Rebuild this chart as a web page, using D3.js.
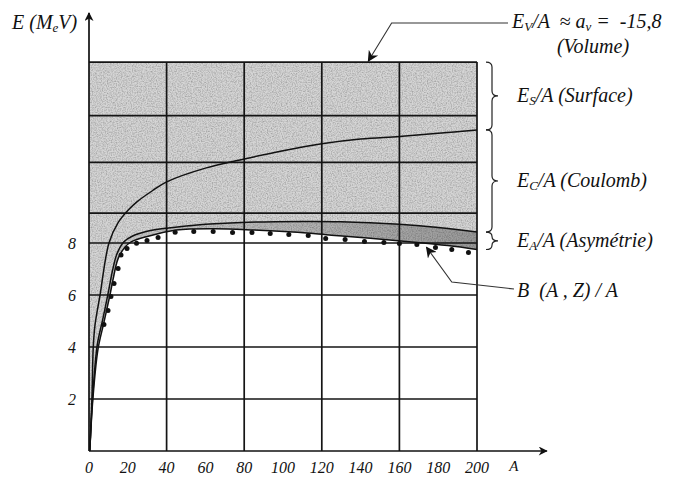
<!DOCTYPE html>
<html>
<head>
<meta charset="utf-8">
<script src="https://cdn.jsdelivr.net/npm/d3@7"></script>
<style>
  body { margin: 0; background: #fff; }
  svg { display: block; }
  text { font-family: 'Liberation Serif', 'DejaVu Serif', serif; font-style: italic; fill: #111; white-space: pre; }
</style>
</head>
<body>
<div id="chart"></div>
<script>
// Mass number A on x, energy per nucleon (MeV) on y
const xTicks = [0, 20, 40, 60, 80, 100, 120, 140, 160, 180, 200];
const xGrid = [0, 40, 80, 120, 160, 200];
const yTicks = [2, 4, 6, 8];
const yGridUpper = [9.15, 11.1, 12.9];
const volumeLevel = 14.96;

// E_V/A - E_S/A
const surfaceCurve = [
  [0.4, 0], [1.5, 2], [2.2, 4], [3.1, 4.85], [5.7, 6.0], [10.3, 8.0], [15, 8.78],
  [20, 9.25], [25, 9.6], [32.5, 10.0], [40, 10.35], [60, 10.88], [80, 11.23],
  [100, 11.55], [120, 11.82], [140, 12.0], [160, 12.1], [180, 12.22], [200, 12.35]
];
// ... - E_C/A
const coulombCurve = [
  [0.4, 0], [2, 2.2], [4.3, 4.1], [7.2, 5.1], [10.2, 6.2], [12, 6.9], [14.5, 7.6],
  [18, 8.05], [22, 8.25], [30, 8.45], [41, 8.58], [60, 8.72], [82, 8.8], [110, 8.83],
  [130, 8.82], [160, 8.72], [180, 8.6], [200, 8.42]
];
// ... - E_A/A (semi-empirical result)
const finalCurve = [
  [0.4, 0], [2, 2], [4.6, 3.9], [7.7, 4.95], [10.8, 6.0], [12.4, 6.6], [15, 7.4],
  [18.6, 7.85], [22, 8.05], [30, 8.25], [45, 8.5], [65, 8.55], [85, 8.5], [105, 8.42],
  [125, 8.3], [145, 8.18], [165, 8.05], [185, 7.9], [200, 7.75]
];
// measured B(A,Z)/A
const measured = [
  [7.7, 4.92], [9.8, 5.46], [11.3, 6.0], [12.9, 6.5], [15, 7.08], [16.5, 7.6],
  [19.6, 7.85], [24.5, 8.05], [29.9, 8.15], [35.6, 8.27], [44.4, 8.47], [54, 8.5],
  [64, 8.5], [74, 8.46], [84, 8.46], [93.4, 8.42], [103, 8.38], [113, 8.35],
  [122, 8.23], [132, 8.19], [142, 8.12], [152, 8.08], [160, 8.04], [169, 8.0],
  [178.6, 7.88], [187, 7.81], [195.6, 7.69]
];

const width = 673, height = 477;
const x = d3.scaleLinear().domain([0, 200]).range([89, 477]);
const y = d3.scaleLinear().domain([0, 8]).range([451, 243]);

const svg = d3.select('#chart').append('svg')
  .attr('width', width)
  .attr('height', height);

const defs = svg.append('defs');

// paper grain for the shaded region
const grain = defs.append('filter').attr('id', 'grain')
  .attr('x', 0).attr('y', 0).attr('width', '100%').attr('height', '100%');
grain.append('feTurbulence')
  .attr('type', 'fractalNoise').attr('baseFrequency', 0.8)
  .attr('numOctaves', 2).attr('seed', 7).attr('result', 'noise');
grain.append('feColorMatrix').attr('in', 'noise').attr('type', 'matrix')
  .attr('values', '0 0 0 0 0  0 0 0 0 0  0 0 0 0 0  0 0 0 0.9 -0.32')
  .attr('result', 'dots');
grain.append('feComposite').attr('in', 'dots').attr('in2', 'SourceGraphic')
  .attr('operator', 'in').attr('result', 'clipped');
const merge = grain.append('feMerge');
merge.append('feMergeNode').attr('in', 'SourceGraphic');
merge.append('feMergeNode').attr('in', 'clipped');

const band = defs.append('linearGradient').attr('id', 'band')
  .attr('gradientUnits', 'userSpaceOnUse')
  .attr('x1', x(20)).attr('x2', x(200)).attr('y1', 0).attr('y2', 0);
band.append('stop').attr('offset', 0).attr('stop-color', '#cbcbcb');
band.append('stop').attr('offset', 1).attr('stop-color', '#9a9a9a');

function arrowMarker (id, w, h) {
  defs.append('marker')
    .attr('id', id)
    .attr('viewBox', '0 0 10 10')
    .attr('refX', 9).attr('refY', 5)
    .attr('markerUnits', 'userSpaceOnUse')
    .attr('markerWidth', w).attr('markerHeight', h)
    .attr('orient', 'auto')
    .append('path')
    .attr('d', 'M0,0 L10,5 L0,10 L3,5 Z')
    .attr('fill', '#111');
}
arrowMarker('axisArrow', 12, 9);
arrowMarker('leadArrow', 15, 11);

const line = d3.line().x(d => x(d[0])).y(d => y(d[1])).curve(d3.curveCatmullRom.alpha(0.5));

// shaded region between the volume level and the final curve
const shade = d3.area()
  .x(d => x(d[0]))
  .y0(y(volumeLevel))
  .y1(d => y(d[1]))
  .curve(d3.curveCatmullRom.alpha(0.5));
svg.append('path')
  .datum([[0, 0]].concat(finalCurve))
  .attr('d', shade)
  .attr('fill', '#d5d5d5')
  .attr('filter', 'url(#grain)');

// darker asymmetry band
const bandPath = line(coulombCurve) + 'L' + line(finalCurve.slice().reverse()).slice(1) + 'Z';
svg.append('path')
  .attr('d', bandPath)
  .attr('fill', 'url(#band)')
  .attr('filter', 'url(#grain)');

// grid
const grid = svg.append('g').attr('stroke', '#151515').attr('stroke-width', 1.7);
grid.selectAll('.vg')
  .data(xGrid.slice(1))
  .enter().append('line')
  .attr('x1', d => x(d)).attr('x2', d => x(d))
  .attr('y1', y(0)).attr('y2', y(volumeLevel));
grid.selectAll('.hg')
  .data(yTicks.concat(yGridUpper, [volumeLevel]))
  .enter().append('line')
  .attr('x1', x(0)).attr('x2', x(200))
  .attr('y1', d => y(d)).attr('y2', d => y(d));

// curves
[surfaceCurve, coulombCurve, finalCurve].forEach(c => {
  svg.append('path')
    .datum(c)
    .attr('d', line)
    .attr('fill', 'none')
    .attr('stroke', '#111')
    .attr('stroke-width', 1.5);
});

svg.append('g').selectAll('circle')
  .data(measured)
  .enter().append('circle')
  .attr('cx', d => x(d[0]))
  .attr('cy', d => y(d[1]) + 1.5)
  .attr('r', 2.5)
  .attr('fill', '#111');

// axes
svg.append('line')
  .attr('x1', x(0)).attr('y1', y(0))
  .attr('x2', x(0)).attr('y2', 13)
  .attr('stroke', '#111').attr('stroke-width', 1.7)
  .attr('marker-end', 'url(#axisArrow)');
svg.append('line')
  .attr('x1', x(0)).attr('y1', y(0))
  .attr('x2', x(236)).attr('y2', y(0))
  .attr('stroke', '#111').attr('stroke-width', 1.7)
  .attr('marker-end', 'url(#axisArrow)');

svg.append('g').selectAll('text')
  .data(xTicks)
  .enter().append('text')
  .attr('x', d => x(d))
  .attr('y', 473)
  .attr('text-anchor', 'middle')
  .attr('font-size', 16)
  .text(d => d);
svg.append('text')
  .attr('x', x(219)).attr('y', 471)
  .attr('font-size', 15).attr('font-style', 'normal')
  .attr('text-anchor', 'middle')
  .text('A');

svg.append('g').selectAll('text')
  .data(yTicks)
  .enter().append('text')
  .attr('x', 76)
  .attr('y', d => y(d) + 6)
  .attr('text-anchor', 'end')
  .attr('font-size', 16)
  .text(d => d);

const yTitle = svg.append('text').attr('x', 12).attr('y', 29).attr('font-size', 20);
yTitle.append('tspan').text('E (M');
yTitle.append('tspan').attr('font-size', 13).attr('dy', 3).text('e');
yTitle.append('tspan').attr('dy', -3).text('V)');

// braces on the right
function brace (top, bottom) {
  const x0 = x(200) + 9, w = 6;
  const y1 = y(top), y2 = y(bottom), ym = (y1 + y2) / 2;
  const r = Math.min(5, (y2 - y1) / 4);
  return `M${x0},${y1} Q${x0 + w},${y1} ${x0 + w},${y1 + r} L${x0 + w},${ym - r} ` +
    `Q${x0 + w},${ym} ${x0 + 2 * w},${ym} Q${x0 + w},${ym} ${x0 + w},${ym + r} ` +
    `L${x0 + w},${y2 - r} Q${x0 + w},${y2} ${x0},${y2}`;
}
const endS = surfaceCurve[surfaceCurve.length - 1][1];
const endC = coulombCurve[coulombCurve.length - 1][1];
const endF = finalCurve[finalCurve.length - 1][1];
const braces = [
  { top: volumeLevel, bottom: endS, sub: 'S', label: '/A (Surface)' },
  { top: endS, bottom: endC, sub: 'C', label: '/A (Coulomb)' },
  { top: endC, bottom: endF, sub: 'A', label: '/A (Asymétrie)' }
];
braces.forEach(b => {
  svg.append('path')
    .attr('d', brace(b.top, b.bottom))
    .attr('fill', 'none').attr('stroke', '#222').attr('stroke-width', 1.2);
  const t = svg.append('text')
    .attr('x', 517)
    .attr('y', (y(b.top) + y(b.bottom)) / 2 + 6)
    .attr('font-size', 20);
  t.append('tspan').text('E');
  t.append('tspan').attr('font-size', 13).attr('dy', 3).text(b.sub);
  t.append('tspan').attr('dy', -3).text(b.label);
});

// volume annotation
const vol = svg.append('text').attr('x', 512).attr('y', 28).attr('font-size', 20);
vol.append('tspan').text('E');
vol.append('tspan').attr('font-size', 13).attr('dy', 3).text('V');
vol.append('tspan').attr('dy', -3).text('/A  \u2248 a');
vol.append('tspan').attr('font-size', 13).attr('dy', 3).text('v');
vol.append('tspan').attr('dy', -3).text(' =  -15,8');
svg.append('text')
  .attr('x', 593).attr('y', 53)
  .attr('text-anchor', 'middle').attr('font-size', 20)
  .text('(Volume)');
svg.append('path')
  .attr('d', d3.line()([[508, 23], [x(156), 23], [x(144), y(volumeLevel) - 1]]))
  .attr('fill', 'none').attr('stroke', '#333').attr('stroke-width', 1.1)
  .attr('marker-end', 'url(#leadArrow)');

// B(A,Z)/A annotation
svg.append('text')
  .attr('x', 517).attr('y', 297).attr('font-size', 20)
  .text('B  (A , Z) / A');
svg.append('path')
  .attr('d', d3.line()([[514, 289], [x(187), 282], [x(174), y(7.95) + 3]]))
  .attr('fill', 'none').attr('stroke', '#333').attr('stroke-width', 1.1)
  .attr('marker-end', 'url(#leadArrow)');
</script>
</body>
</html>
